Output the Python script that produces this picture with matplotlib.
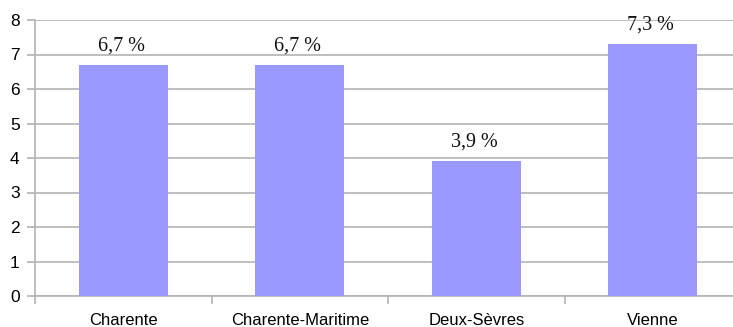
import matplotlib
matplotlib.use("Agg")
import matplotlib.pyplot as plt

# ── DATA ──────────────────────────────────────────────────────────────
categories = ["Charente", "Charente-Maritime", "Deux-Sèvres", "Vienne"]
values     = [6.7, 6.7, 3.9, 7.3]
labels     = ["6,7 %", "6,7 %", "3,9 %", "7,3 %"]
y_ticks    = [0, 1, 2, 3, 4, 5, 6, 7, 8]
# ──────────────────────────────────────────────────────────────────────

W, H, DPI = 733, 327, 100
fig = plt.figure(figsize=(W / DPI, H / DPI), dpi=DPI)
fig.patch.set_facecolor("white")

# axes box in pixels: left 35, right beyond edge (~741), top 20, bottom 296
ax = fig.add_axes([35 / W, (H - 296) / H, (W - 35) / W, (296 - 20) / H])

grid_col = "#b3b3b3"
x = range(len(categories))
ax.bar(x, values, width=0.505, color="#9999ff", zorder=3)

for xi, v, lab in zip(x, values, labels):
    ax.annotate(lab, (xi, v), xytext=(-1.5, 7), textcoords="offset points",
                ha="center", va="bottom", fontsize=14.5,
                family="Liberation Serif", color="#111111")

ax.set_xlim(-0.5, 3.5 - 8 / 176.5)
ax.set_ylim(0, 8)
ax.set_yticks(y_ticks)
ax.set_yticklabels([str(t) for t in y_ticks], family="Liberation Sans",
                   fontsize=12.5)
ax.yaxis.grid(True, color=grid_col, linewidth=1.2, zorder=0)

# category labels centred, tick marks on category borders
ax.set_xticks(list(x))
ax.set_xticklabels(categories, family="Liberation Sans", fontsize=12)
ax.tick_params(axis="x", length=0, pad=12)
ax.set_xticks([-0.5, 0.5, 1.5, 2.5], minor=True)
ax.tick_params(axis="x", which="minor", length=6, color=grid_col, width=1.2)
ax.tick_params(axis="y", length=6, color=grid_col, width=1.2, pad=5)

for s in ["top", "right"]:
    ax.spines[s].set_visible(False)
for s in ["left", "bottom"]:
    ax.spines[s].set_color(grid_col)
    ax.spines[s].set_linewidth(1.2)

fig.savefig("out.png", dpi=DPI)
